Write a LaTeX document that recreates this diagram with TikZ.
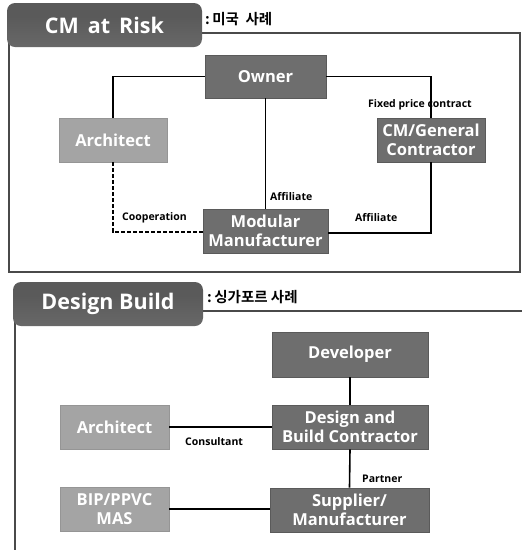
\documentclass[tikz,border=0pt]{standalone}
\usepackage{fontspec}
\setmainfont{Open Sans}
\newfontfamily\kr{Noto Sans CJK KR}[BoldFont={* Bold}]
\definecolor{darkbox}{HTML}{6E6E6E}
\definecolor{darkedge}{HTML}{5A5A5A}
\definecolor{lightbox}{HTML}{A4A4A4}
\definecolor{lightedge}{HTML}{959595}
\definecolor{framec}{HTML}{4A4A4A}
\definecolor{tabtop}{HTML}{5A5A5A}
\definecolor{tabmid}{HTML}{6A6A6A}
\definecolor{tabbot}{HTML}{B4B4B4}
\pgfdeclareverticalshading{tabshade}{100bp}{color(0bp)=(tabbot); color(20bp)=(tabmid); color(60bp)=(tabtop); color(100bp)=(tabtop)}
\begin{document}
\begin{tikzpicture}[x=1pt,y=-1pt,
  darkstyle/.style={draw=darkedge,line width=0.8pt,fill=darkbox,text=white,font=\fontsize{16.5}{19}\selectfont\bfseries,align=center,inner sep=0pt},
  lightstyle/.style={draw=lightedge,line width=0.8pt,fill=lightbox,text=white,font=\fontsize{16.5}{19}\selectfont\bfseries,align=center,inner sep=0pt},
  lbl/.style={font=\fontsize{10.5}{11}\selectfont\bfseries,inner sep=0pt},
  conn/.style={line width=1.6pt,black},
  frame/.style={line width=2pt,framec},
  tabstyle/.style={rounded corners=8pt,shading=tabshade,text=white,font=\fontsize{21.5}{24}\selectfont\bfseries,inner sep=0pt},
  krstyle/.style={font=\kr\bfseries\fontsize{14.5}{15}\selectfont,inner sep=0pt,anchor=west}
]
\useasboundingbox (0,0) rectangle (527,550);
% ---------- Top section ----------
\draw[frame] (9,33) rectangle (520,272);
\node[tabstyle,minimum width=195pt,minimum height=44pt] (tab1) at (104.5,25) {CM\hspace{9pt}at\hspace{9pt}Risk};
\node[krstyle] (kr1) at (205,19) {:\,미국\ \ 사례};

\node[darkstyle,minimum width=121pt,minimum height=43pt] (owner) at (265.5,76.5) {Owner};
\node[lightstyle,minimum width=108pt,minimum height=44pt] (arch1) at (113,140) {Architect};
\node[darkstyle,minimum width=108pt,minimum height=44pt] (cm) at (431,140) {CM/General\\Contractor};
\node[darkstyle,minimum width=125pt,minimum height=44pt] (mod) at (265.5,231) {Modular\\Manufacturer};

\draw[conn] (owner.west) -| (arch1.north);
\draw[conn] (owner.east) -| (cm.north);
\draw[conn] (owner.south) -- (mod.north);
\draw[conn] (cm.south) |- ([yshift=-2pt]mod.east);
\draw[conn,dash pattern=on 4pt off 2pt] (arch1.south) |- ([yshift=-1pt]mod.west);

\node[lbl,anchor=west] (fpc) at (368,105) {Fixed price contract};
\node[lbl,anchor=west] (aff1) at (270,197) {Affiliate};
\node[lbl,anchor=west] (aff2) at (355,218) {Affiliate};
\node[lbl,anchor=west] (coop) at (122,218) {Cooperation};

% ---------- Bottom section ----------
\draw[frame] (15,550) -- (15,311) -- (522,311);
\node[tabstyle,minimum width=190pt,minimum height=44pt] (tab2) at (108,304) {Design Build};
\node[krstyle] (kr2) at (207,297) {:\,싱가포르\ 사례};

\node[darkstyle,minimum width=156pt,minimum height=45pt] (dev) at (350,354.5) {Developer};
\node[darkstyle,minimum width=156pt,minimum height=44pt] (db) at (350,427) {Design and\\Build Contractor};
\node[lightstyle,minimum width=109pt,minimum height=44pt] (arch2) at (114.5,427) {Architect};
\node[lightstyle,minimum width=109pt,minimum height=44pt] (bip) at (114.5,509) {BIP/PPVC\\MAS};
\node[darkstyle,minimum width=159pt,minimum height=44pt] (sup) at (349.5,510) {Supplier/\\Manufacturer};

\draw[conn] (dev.south) -- (db.north);
\draw[conn] (arch2.east) -- (db.west);
\draw[conn] (db.south) -- (sup.north);
\draw[conn] (bip.east) -- (sup.west |- bip.east);

\node[lbl,anchor=west] (cons) at (185,442) {Consultant};
\node[lbl,anchor=west] (part) at (362,479) {Partner};
\end{tikzpicture}
\end{document}
